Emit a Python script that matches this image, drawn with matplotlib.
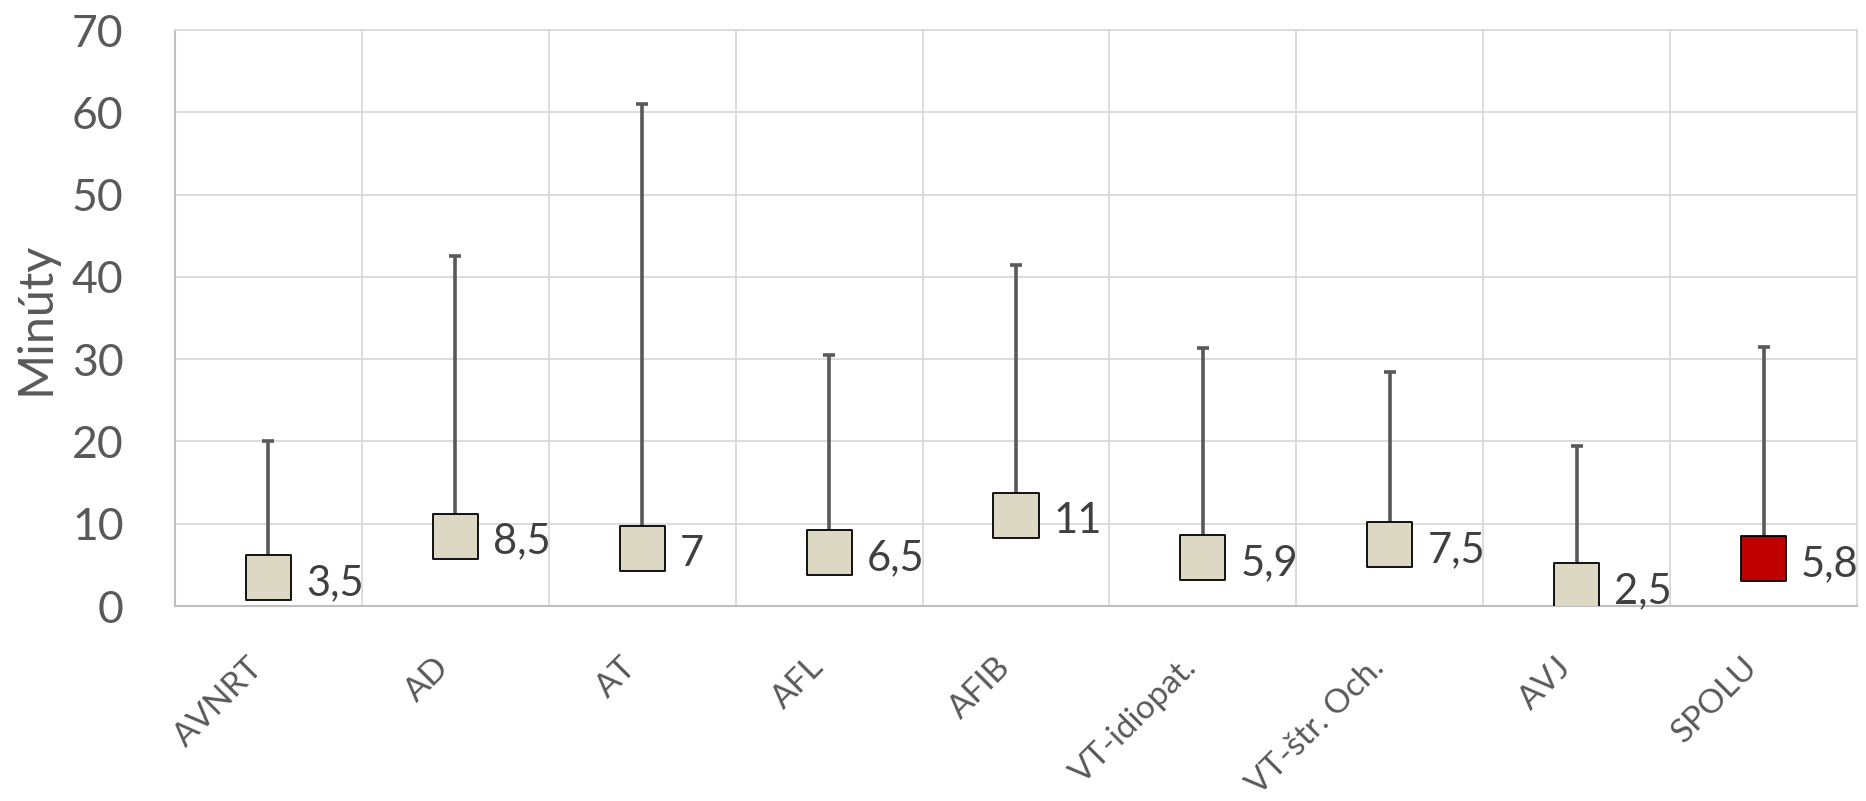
import matplotlib
matplotlib.use("Agg")
from matplotlib import pyplot as plt
import numpy as np

categories = ["AVNRT", "AD", "AT", "AFL", "AFIB", "VT-idiopat.", "VT-štr. Och.", "AVJ", "SPOLU"]
means = [3.5, 8.5, 7, 6.5, 11, 5.9, 7.5, 2.5, 5.8]
upper = [20, 42.5, 61, 30.5, 41.5, 31.4, 28.5, 19.4, 31.5]
labels = ["3,5", "8,5", "7", "6,5", "11", "5,9", "7,5", "2,5", "5,8"]

gray = "#595959"
grid = "#D9D9D9"
fill = "#DDD8C4"
red = "#C00000"

plt.rcParams["font.family"] = ["Lato", "DejaVu Sans"]

fig = plt.figure(figsize=(18.66, 8.01), dpi=100)
ax = fig.add_axes([0.0938, 0.2434, 0.9014, 0.7191])

x = np.arange(len(categories))
err_up = np.array(upper) - np.array(means)
ax.errorbar(x, means, yerr=[np.zeros(len(x)), err_up], fmt="none",
            ecolor=gray, elinewidth=2.6, capsize=4.5, capthick=2.6, zorder=2)

colors = [fill] * (len(x) - 1) + [red]
ax.scatter(x, means, marker="s", s=32.5 ** 2, c=colors, edgecolors="black",
           linewidths=1.3, zorder=3)

for xi, m, lab in zip(x, means, labels):
    ax.annotate(lab, (xi, m), xytext=(27, -4), textcoords="offset points",
                ha="left", va="center", fontsize=30, color="#404040",
                zorder=4, annotation_clip=False)

ax.set_xlim(-0.5, len(x) - 0.5)
ax.set_ylim(0, 70)
ax.set_yticks(np.arange(0, 71, 10))
ax.set_xticks(x)
ax.set_xticklabels(categories, rotation=45, ha="right", va="top",
                   fontsize=24, color=gray)
ax.tick_params(axis="y", labelsize=32, labelcolor=gray, length=0, pad=37)
ax.tick_params(axis="x", length=0, pad=33)

ax.set_xticks(np.arange(-0.5, len(x), 1), minor=True)
ax.tick_params(axis="x", which="minor", length=0)
ax.grid(which="minor", axis="x", color=grid, linewidth=1.3)
ax.grid(which="major", axis="y", color=grid, linewidth=1.3)
ax.set_axisbelow(True)
for side in ["top", "right"]:
    ax.spines[side].set_color(grid)
    ax.spines[side].set_linewidth(1.3)
for side in ["left", "bottom"]:
    ax.spines[side].set_color("#BFBFBF")
    ax.spines[side].set_linewidth(1.5)

ax.set_ylabel("Minúty", fontsize=35, color=gray)
ax.yaxis.set_label_coords(-0.0696, 0.5)

fig.savefig("out.png", dpi=100)
